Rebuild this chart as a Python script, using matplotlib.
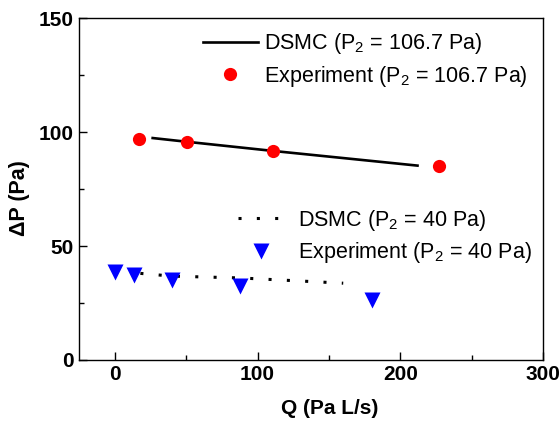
import matplotlib
matplotlib.use('Agg')
import matplotlib.pyplot as plt
from matplotlib.ticker import MultipleLocator

plt.rcParams['font.family'] = ['Liberation Sans', 'DejaVu Sans']
plt.rcParams['mathtext.fontset'] = 'custom'
plt.rcParams['mathtext.rm'] = 'Liberation Sans'
plt.rcParams['mathtext.default'] = 'regular'

# P2 = 106.7 Pa
dsmc_hi_q = [26.6, 50, 110, 212]
dsmc_hi_dp = [97.4, 95.8, 91.8, 85.3]
exp_hi_q = [16.8, 50.3, 111, 227]
exp_hi_dp = [97.0, 95.6, 91.7, 85.0]

# P2 = 40 Pa
dsmc_lo_q = [18, 40, 88, 160]
dsmc_lo_dp = [38.0, 36.8, 36.0, 33.7]
exp_lo_q = [0, 13.3, 40, 88, 180]
exp_lo_dp = [38.4, 37.3, 35.0, 32.5, 26.5]

fig = plt.figure(figsize=(5.6, 4.23), dpi=100)
ax = fig.add_axes([0.141, 0.149, 0.829, 0.808])

l1, = ax.plot(dsmc_hi_q, dsmc_hi_dp, color='k', lw=1.9,
              label='DSMC (P$_2$ = 106.7 Pa)')
p1, = ax.plot(exp_hi_q, exp_hi_dp, 'o', color='#ff0000', ms=9.5, mec='none',
              label='Experiment (P$_2$ = 106.7 Pa)')
l2, = ax.plot(dsmc_lo_q, dsmc_lo_dp, color='k', lw=2.2, ls=(0, (1, 5)),
              label='DSMC (P$_2$ = 40 Pa)')
p2, = ax.plot(exp_lo_q, exp_lo_dp, 'v', color='#0000ff', ms=11, mec='none',
              label='Experiment (P$_2$ = 40 Pa)')

leg1 = ax.legend(handles=[l1, p1], loc='upper left', bbox_to_anchor=(0.267, 0.962),
                 frameon=False, fontsize=15.5, handlelength=2.55, handletextpad=0.3,
                 borderpad=0, borderaxespad=0, labelspacing=0.35)
ax.add_artist(leg1)
ax.legend(handles=[l2, p2], loc='upper left', bbox_to_anchor=(0.343, 0.445),
          frameon=False, fontsize=15.5, handlelength=2.1, handletextpad=0.7,
          borderpad=0, borderaxespad=0, labelspacing=0.35)

ax.set_xlim(-25, 300)
ax.set_ylim(0, 150)
ax.xaxis.set_major_locator(MultipleLocator(100))
ax.xaxis.set_minor_locator(MultipleLocator(50))
ax.yaxis.set_major_locator(MultipleLocator(50))
ax.yaxis.set_minor_locator(MultipleLocator(25))
ax.tick_params(which='both', direction='in', top=False, right=False,
               labelsize=15, width=1)
ax.tick_params(which='major', length=6)
ax.tick_params(which='minor', length=3.5)
for lab in ax.get_xticklabels() + ax.get_yticklabels():
    lab.set_fontweight('bold')
for s in ax.spines.values():
    s.set_linewidth(1)

ax.set_xlabel('Q (Pa L/s)', fontsize=15, fontweight='bold')
ax.set_ylabel('ΔP (Pa)', fontsize=15.5, fontweight='bold')
ax.xaxis.set_label_coords(0.54, -0.115)
ax.yaxis.set_label_coords(-0.105, 0.474)

fig.savefig('out.png', dpi=100)
